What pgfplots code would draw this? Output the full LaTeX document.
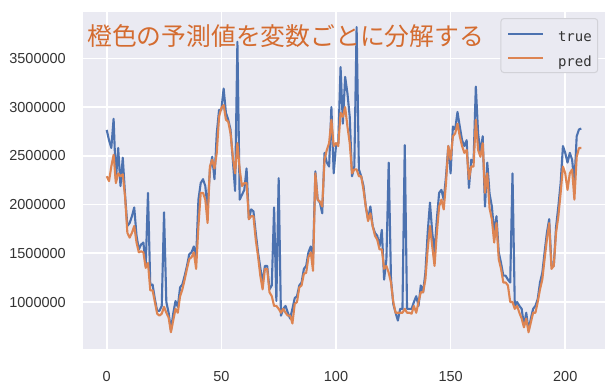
\documentclass[border=0pt]{standalone}
\usepackage{fontspec}
\setmainfont{Liberation Sans}
\newfontfamily\cjk{Noto Sans CJK JP}
\newfontfamily\legfont{DejaVu Sans Mono}
\usepackage{pgfplots}
\usepackage{pgfplotstable}
\pgfplotsset{compat=1.18}
\definecolor{sbblue}{HTML}{4C72B0}
\definecolor{sborange}{HTML}{DD8452}
\definecolor{sbbg}{HTML}{EAEAF2}
\definecolor{titleor}{RGB}{212,108,48}
\definecolor{ticktext}{HTML}{333333}
\definecolor{legedge}{RGB}{210,210,216}

\pgfplotstableread{
x y
0 2765000
1 2660000
2 2580000
3 2880000
4 2250000
5 2580000
6 2190000
7 2480000
8 2100000
9 1780000
10 1810000
11 1880000
12 1970000
13 1680000
14 1540000
15 1590000
16 1610000
17 1370000
18 2120000
19 1170000
20 1180000
21 1030000
22 910000
23 910000
24 960000
25 1920000
26 1000000
27 890000
28 710000
29 880000
30 1010000
31 950000
32 1150000
33 1180000
34 1270000
35 1370000
36 1490000
37 1510000
38 1570000
39 1450000
40 2050000
41 2220000
42 2260000
43 2190000
44 1950000
45 2350000
46 2490000
47 2260000
48 2730000
49 2970000
50 2970000
51 3190000
52 2940000
53 2870000
54 2770000
55 2460000
56 2140000
57 3670000
58 2050000
59 2100000
60 2150000
61 2370000
62 1850000
63 1950000
64 1930000
65 1710000
66 1510000
67 1350000
68 1200000
69 1370000
70 1370000
71 1130000
72 1170000
73 1970000
74 1010000
75 2270000
76 860000
77 930000
78 960000
79 890000
80 830000
81 930000
82 1040000
83 1060000
84 1170000
85 1200000
86 1340000
87 1370000
88 1510000
89 1570000
90 1450000
91 2340000
92 2050000
93 2020000
94 1910000
95 2530000
96 2430000
97 2390000
98 3000000
99 2320000
100 2600000
101 2630000
102 3410000
103 2830000
104 3310000
105 3140000
106 2900000
107 2290000
108 2390000
109 3820000
110 2360000
111 2290000
112 2190000
113 1980000
114 1850000
115 1980000
116 1780000
117 1710000
118 1680000
119 1570000
120 1740000
121 1230000
122 1440000
123 2430000
124 1230000
125 980000
126 890000
127 810000
128 930000
129 930000
130 2610000
131 930000
132 930000
133 930000
134 1000000
135 1060000
136 960000
137 1170000
138 1100000
139 1300000
140 1710000
141 2020000
142 1710000
143 1510000
144 1850000
145 2120000
146 2150000
147 2050000
148 2290000
149 2600000
150 2320000
151 2800000
152 2770000
153 2950000
154 2800000
155 2660000
156 2600000
157 2660000
158 2170000
159 2460000
160 2430000
161 3210000
162 2730000
163 2530000
164 2700000
165 1980000
166 2430000
167 2110000
168 1980000
169 1710000
170 1880000
171 1510000
172 1400000
173 1270000
174 1270000
175 1230000
176 1200000
177 2320000
178 960000
179 1000000
180 960000
181 930000
182 760000
183 890000
184 710000
185 830000
186 930000
187 960000
188 1030000
189 1200000
190 1300000
191 1510000
192 1710000
193 1850000
194 1370000
195 1370000
196 1770000
197 1980000
198 2220000
199 2600000
200 2530000
201 2430000
202 2530000
203 2460000
204 2220000
205 2700000
206 2770000
207 2780000
}\truedata

\pgfplotstableread{
x y
0 2290000
1 2240000
2 2390000
3 2510000
4 2220000
5 2320000
6 2290000
7 2310000
8 2080000
9 1710000
10 1660000
11 1710000
12 1780000
13 1610000
14 1510000
15 1520000
16 1510000
17 1350000
18 1400000
19 1120000
20 1120000
21 1000000
22 880000
23 860000
24 880000
25 950000
26 890000
27 840000
28 690000
29 810000
30 930000
31 890000
32 1060000
33 1130000
34 1230000
35 1340000
36 1440000
37 1460000
38 1510000
39 1340000
40 1780000
41 2120000
42 2120000
43 2050000
44 1810000
45 2390000
46 2460000
47 2370000
48 2530000
49 2900000
50 2990000
51 3020000
52 2870000
53 2850000
54 2730000
55 2490000
56 2320000
57 2630000
58 2360000
59 2190000
60 2220000
61 2220000
62 1850000
63 1880000
64 1880000
65 1640000
66 1470000
67 1270000
68 1130000
69 1340000
70 1340000
71 1100000
72 1060000
73 960000
74 960000
75 930000
76 890000
77 930000
78 890000
79 860000
80 860000
81 780000
82 980000
83 1000000
84 1150000
85 1170000
86 1290000
87 1300000
88 1460000
89 1510000
90 1320000
91 2320000
92 2050000
93 2030000
94 1980000
95 2460000
96 2560000
97 2630000
98 2870000
99 2600000
100 2630000
101 2600000
102 2940000
103 2900000
104 3000000
105 2800000
106 2630000
107 2320000
108 2360000
109 2360000
110 2290000
111 2290000
112 2150000
113 1980000
114 1830000
115 1910000
116 1780000
117 1680000
118 1640000
119 1540000
120 1540000
121 1340000
122 1370000
123 1300000
124 1200000
125 1000000
126 890000
127 890000
128 890000
129 890000
130 930000
131 890000
132 890000
133 880000
134 960000
135 890000
136 1000000
137 1100000
138 1100000
139 1230000
140 1540000
141 1780000
142 1570000
143 1370000
144 1710000
145 1980000
146 2050000
147 1950000
148 2220000
149 2600000
150 2460000
151 2700000
152 2730000
153 2830000
154 2700000
155 2600000
156 2530000
157 2560000
158 2260000
159 2390000
160 2390000
161 2870000
162 2560000
163 2490000
164 2630000
165 2120000
166 2320000
167 1960000
168 1850000
169 1610000
170 1810000
171 1440000
172 1340000
173 1200000
174 1200000
175 1170000
176 1000000
177 1000000
178 930000
179 960000
180 890000
181 830000
182 740000
183 830000
184 690000
185 790000
186 890000
187 890000
188 1000000
189 1130000
190 1230000
191 1440000
192 1640000
193 1810000
194 1340000
195 1370000
196 1710000
197 1880000
198 2120000
199 2390000
200 2320000
201 2150000
202 2320000
203 2360000
204 2050000
205 2490000
206 2580000
207 2580000
}\preddata

\begin{document}
\begin{tikzpicture}
\path[use as bounding box] (0bp,0bp) rectangle (616bp,392bp);
\begin{axis}[
  at={(83bp,43bp)}, anchor=south west,
  width=522bp, height=337bp, scale only axis,
  xmin=-10.35, xmax=217.35,
  ymin=518000, ymax=3975000,
  xtick={0,50,100,150,200},
  ytick={1000000,1500000,2000000,2500000,3000000,3500000},
  yticklabels={1000000,1500000,2000000,2500000,3000000,3500000},
  /pgf/number format/assume math mode=true,
  scaled y ticks=false,
  axis background/.style={fill=sbbg},
  axis line style={draw=none},
  major tick length=0pt,
  grid=major,
  major grid style={white, line width=1.6bp},
  tick label style={font=\fontsize{14.5bp}{17bp}\selectfont, text=ticktext},
  xticklabel style={anchor=north, inner sep=0pt, yshift=-22bp},
  yticklabel style={anchor=east, inner sep=0pt, xshift=-17bp},
  legend style={at={(0.987,0.982)}, anchor=north east, fill=sbbg, draw=legedge,
    line width=1bp, rounded corners=3bp, inner xsep=6bp, inner ysep=3bp,
    font=\legfont\fontsize{14bp}{16bp}\selectfont, text=ticktext,
    nodes={inner sep=0pt}, row sep=0pt},
  legend cell align=left,
  legend image code/.code={
    \draw[#1, line width=2.1bp] (0bp,4bp) -- (35bp,4bp);
    \path[draw=none, fill=none] (0bp,-8bp) rectangle (50bp,16bp);
  },
]
\addplot[sbblue, line width=2.1bp, line join=round] table[x=x,y=y] {\truedata};
\addlegendentry{true}
\addplot[sborange, line width=2.1bp, line join=round] table[x=x,y=y] {\preddata};
\addlegendentry{pred}
\node[anchor=west, inner sep=0pt, text=titleor, font=\cjk\fontsize{24.8bp}{28bp}\selectfont]
  at (rel axis cs:0.0077,0.929) {橙色の予測値を変数ごとに分解する};
\end{axis}
\end{tikzpicture}
\end{document}
